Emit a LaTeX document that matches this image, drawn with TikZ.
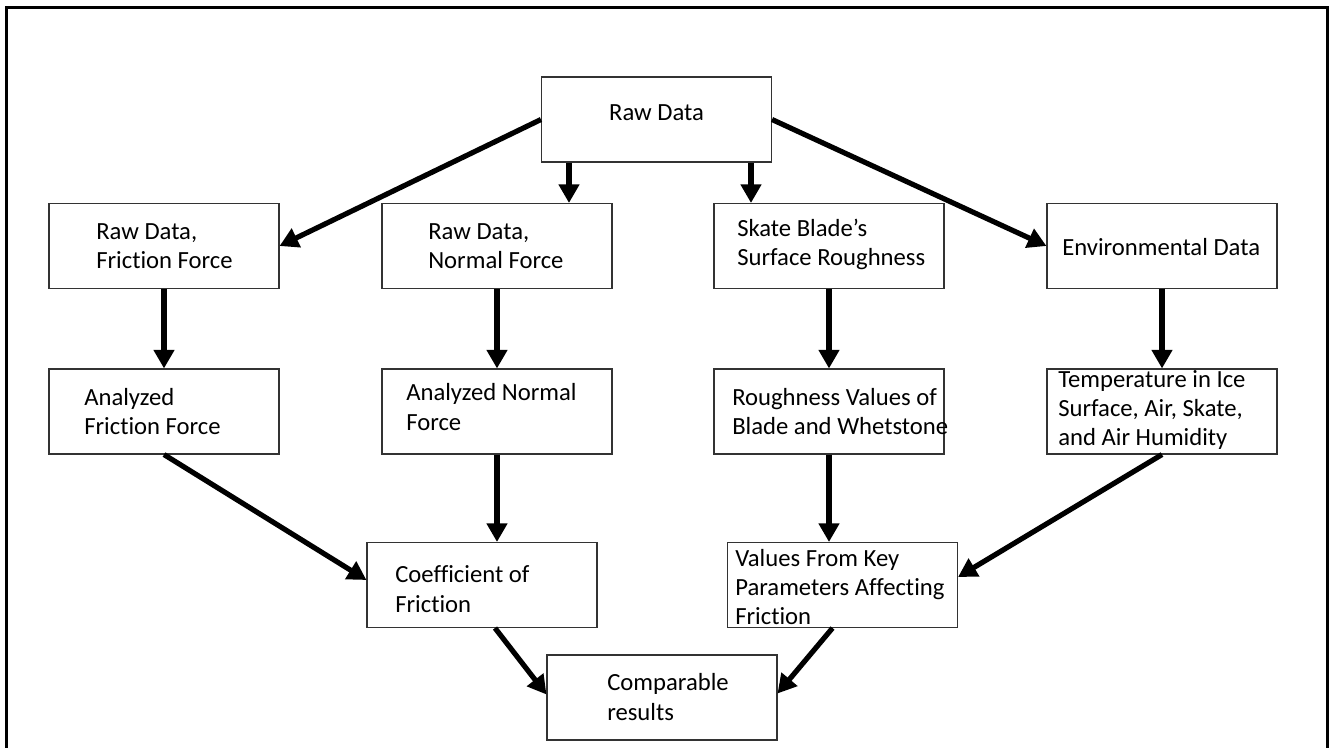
\documentclass[tikz,border=0pt]{standalone}
\usepackage{fontspec}
\setmainfont{Carlito}[Ligatures=NoCommon]
\usetikzlibrary{arrows.meta}

\begin{document}
\begin{tikzpicture}[x=0.75pt,y=0.75pt,yscale=-1,xscale=1,
  box/.style={draw=black!80, line width=0.8pt, minimum width=172.5pt, minimum height=63.75pt, inner sep=0pt},
  txt/.style={anchor=west, align=left, inner sep=0pt, font=\fontsize{18.5}{22}\selectfont},
  arr/.style={line width=3.9pt, -{Triangle[length=14pt,width=15pt]}},
  framebox/.style={line width=2.25pt}]
\useasboundingbox (0,0) rectangle (1335,747);

%Shape: outer frame
\draw [framebox] (6,7) rectangle (1327,770);

%Shape: boxes
\node [box] (rd) at (656.5,119.5) {};
\node [box] (rdf) at (164,246) {};
\node [box] (rdn) at (497,246) {};
\node [box] (sb) at (829,246) {};
\node [box] (env) at (1162,246) {};
\node [box] (af) at (164,411.5) {};
\node [box] (an) at (497,411.5) {};
\node [box] (rv) at (829,411.5) {};
\node [box] (tm) at (1162,411.5) {};
\node [box] (cf) at (482,585) {};
\node [box] (kv) at (842.5,585) {};
\node [box] (cr) at (662,697.5) {};

% Text Node
\node [txt, anchor=center] (rd-t) at (656.5,113) {Raw Data};
% Text Node
\node [txt] (rdf-t) at (96,246) {Raw Data,\\Friction Force};
% Text Node
\node [txt] (rdn-t) at (428,246) {Raw Data,\\Normal Force};
% Text Node
\node [txt] (sb-t) at (737,244.5) {Skate Blade’s\\Surface Roughness};
% Text Node
\node [txt] (env-t) at (1062,247) {Environmental Data};
% Text Node
\node [txt] (af-t) at (84,411.5) {Analyzed\\Friction Force};
% Text Node
\node [txt] (an-t) at (406,407) {Analyzed Normal\\Force};
% Text Node
\node [txt] (rv-t) at (732,411.5) {Roughness Values of\\Blade and Whetstone};
% Text Node
\node [txt] (tm-t) at (1058,410) {Temperature in Ice\\Surface, Air, Skate,\\and Air Humidity};
% Text Node
\node [txt] (cf-t) at (395,589) {Coefficient of\\Friction};
% Text Node
\node [txt] (kv-t) at (735,587) {Values From Key\\Parameters Affecting\\Friction};
% Text Node
\node [txt] (cr-t) at (607,697) {Comparable\\results};

%Arrows
\draw [arr] (rd.west) -- (rdf.east);
\draw [arr] ([shift={(-87.5,0)}]rd.south) -- ([shift={(-87.5,0)}]rd.south |- rdn.north);
\draw [arr] ([shift={(94.5,0)}]rd.south) -- ([shift={(94.5,0)}]rd.south |- sb.north);
\draw [arr] (rd.east) -- (env.west);
\draw [arr] (rdf) -- (af);
\draw [arr] (rdn) -- (an);
\draw [arr] (sb) -- (rv);
\draw [arr] (env) -- (tm);
\draw [arr] (af.south) -- ([shift={(0,-5)}]cf.west);
\draw [arr] (an.south) -- (an.south |- cf.north);
\draw [arr] (rv.south) -- (rv.south |- kv.north);
\draw [arr] (tm.south) -- ([shift={(0,-8)}]kv.east);
\draw [arr] ([shift={(13,0)}]cf.south) -- ([shift={(0,-3)}]cr.west);
\draw [arr] ([shift={(-10,0)}]kv.south) -- ([shift={(0,-4)}]cr.east);

\end{tikzpicture}
\end{document}
